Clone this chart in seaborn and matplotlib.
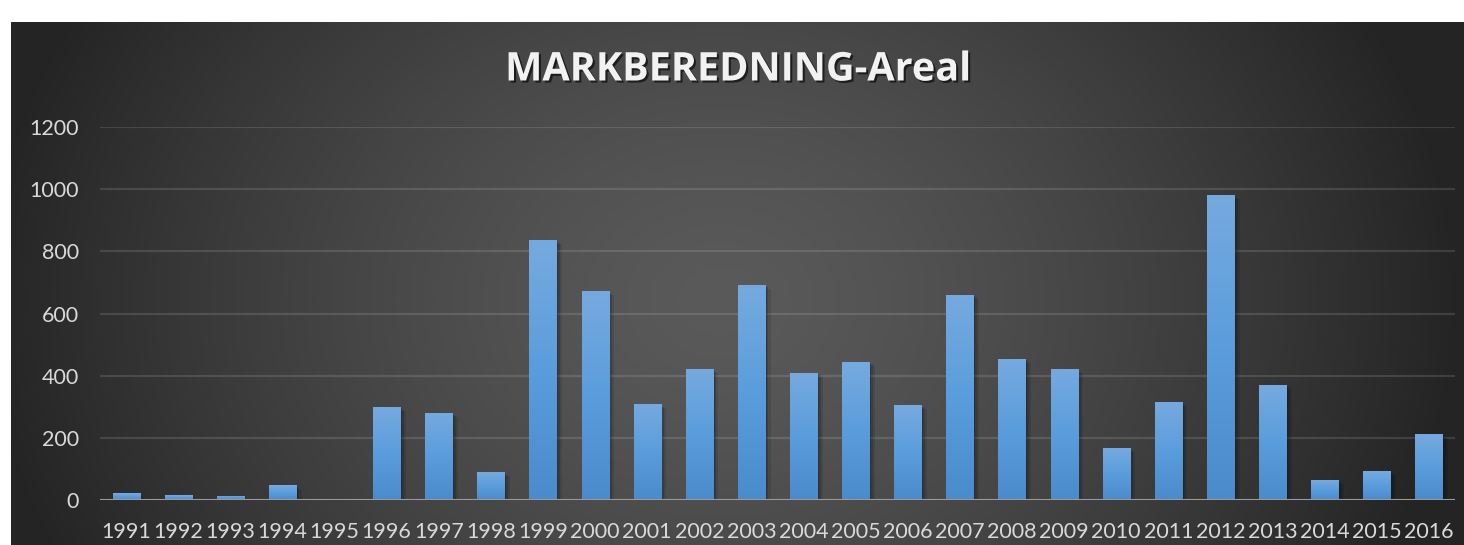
import numpy as np
import pandas as pd
import matplotlib
matplotlib.use("Agg")
import matplotlib.pyplot as plt
import matplotlib.patheffects as pe
from matplotlib.colors import LinearSegmentedColormap
import seaborn as sns

# Soil preparation area per year
years = [str(y) for y in range(1991, 2017)]
areal = [22, 16, 13, 48, 0, 300, 280, 90, 837, 673, 309, 422, 693, 410,
         445, 305, 661, 455, 422, 167, 315, 982, 371, 64, 93, 212]
y_ticks = [0, 200, 400, 600, 800, 1000, 1200]
title = "MARKBEREDNING-Areal"

df = pd.DataFrame({"year": years, "areal": areal})

sns.set_theme(style="white")
plt.rcParams["font.family"] = ["Lato", "DejaVu Sans"]

W, H = 1464, 545
fig = plt.figure(figsize=(W / 100, H / 100), dpi=100)
fig.patch.set_facecolor("white")

# Dark panel with a radial gradient
px0, py0 = 11, 22
ax_bg = fig.add_axes([px0 / W, 0, 1 - px0 / W, 1 - py0 / H])
ax_bg.set_axis_off()
gw, gh = W - px0, H - py0
gx, gy = np.meshgrid(np.arange(gw), np.arange(gh))
cx, cy = 720 - px0, 300 - py0
r = np.sqrt(((gx - cx) / 740.0) ** 2 + ((gy - cy) / 600.0) ** 2)
r = np.clip(r, 0, 1) ** 1.4
c_center, c_edge = 0x5A / 255, 0x24 / 255
val = c_center + (c_edge - c_center) * r
ax_bg.imshow(np.dstack([val, val, val]), aspect="auto", interpolation="bilinear")

# Main plotting area
ax = fig.add_axes([100 / W, 1 - 500 / H, 1355 / W, 373 / H])
ax.set_facecolor("none")
ax.patch.set_alpha(0)

sns.barplot(data=df, x="year", y="areal", color="#5B9BD5", width=0.52,
            saturation=1, ax=ax, zorder=3)

grad_cmap = LinearSegmentedColormap.from_list("bar", ["#4A8BCB", "#5A9DDC", "#76AADF"])
grad = np.linspace(0, 1, 256)[::-1].reshape(-1, 1)
soft_shadow = [
    pe.SimplePatchShadow(offset=(4, -3), shadow_rgbFace="black", alpha=0.10),
    pe.SimplePatchShadow(offset=(2.5, -2), shadow_rgbFace="black", alpha=0.15),
    pe.SimplePatchShadow(offset=(1.2, -1), shadow_rgbFace="black", alpha=0.15),
    pe.Normal(),
]
for p in list(ax.patches):
    p.set_edgecolor("none")
    p.set_path_effects(soft_shadow)
    x0, w, h = p.get_x(), p.get_width(), p.get_height()
    if h > 0:
        im = ax.imshow(grad, extent=[x0, x0 + w, 0, h], aspect="auto", cmap=grad_cmap,
                       zorder=4, interpolation="bilinear")
        im.set_clip_path(p)

ax.set_xlim(-0.5, len(years) - 0.5)
ax.set_ylim(0, 1200)
ax.set_yticks(y_ticks)
ax.set_yticklabels([str(t) for t in y_ticks])
ax.grid(axis="y", color="white", alpha=0.12, linewidth=1.6, zorder=0)
ax.grid(axis="x", visible=False)
for s in ax.spines.values():
    s.set_visible(False)
ax.axhline(0, color="#9A9A9A", linewidth=2.2, zorder=5)
ax.tick_params(axis="both", length=0, labelcolor="#D9D9D9", labelsize=15.5)
ax.tick_params(axis="y", pad=15)
ax.tick_params(axis="x", pad=16)
ax.set_xlabel("")
ax.set_ylabel("")

fig.text(738 / W, 1 - 70 / H, title, ha="center", va="center", fontsize=28.5,
         fontweight="bold", color="#F2F2F2", family=["Open Sans", "DejaVu Sans"],
         path_effects=[pe.withSimplePatchShadow(offset=(1.5, -1.5), shadow_rgbFace="black", alpha=0.6)])

fig.savefig("out.png", dpi=100, facecolor=fig.get_facecolor())
